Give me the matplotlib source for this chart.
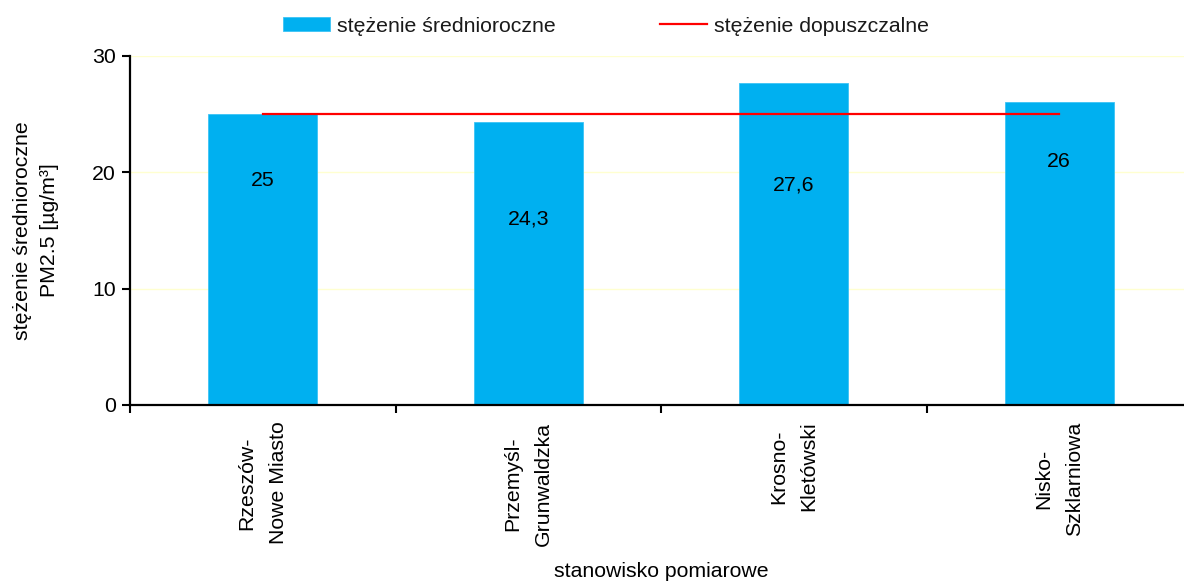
import matplotlib.pyplot as plt
from matplotlib.ticker import FixedLocator

plt.rcParams['font.family'] = ['Liberation Sans', 'DejaVu Sans']
plt.rcParams['font.size'] = 15.3
plt.rcParams['text.color'] = '#1a1a1a'

stations = ['Rzeszów-\nNowe Miasto', 'Przemyśl-\nGrunwaldzka', 'Krosno-\nKletówski', 'Nisko-\nSzklarniowa']
annual_mean = [25, 24.3, 27.6, 26]
value_labels = ['25', '24,3', '27,6', '26']
limit = [25, 25, 25, 25]

# where the value labels sit, in points below the top of each bar
label_drop = [48, 70, 73, 43]

fig = plt.figure(figsize=(11.84, 5.81), dpi=100)
ax = fig.add_axes([130 / 1184, 176 / 581, 1062 / 1184, 349.5 / 581])

x = range(len(stations))
bars = ax.bar(x, annual_mean, width=0.41, color='#00B0F0', edgecolor='#3cc3f5', linewidth=0.6,
              label='stężenie średnioroczne', zorder=2)
line, = ax.plot(x, limit, color='#FF0000', linewidth=1.6, label='stężenie dopuszczalne', zorder=3)

for i, (v, txt) in enumerate(zip(annual_mean, value_labels)):
    ax.annotate(txt, xy=(i, v), xytext=(0, -label_drop[i]), textcoords='offset points',
                ha='center', va='center', color='black', zorder=4)

ax.set_xlim(-0.5, 3.5)
ax.set_ylim(0, 30)
ax.set_yticks([0, 10, 20, 30])
ax.yaxis.grid(True, color='#FFFFD0', linewidth=1, zorder=0)
ax.set_axisbelow(True)

ax.set_xticks(list(x))
ax.set_xticklabels(stations, rotation=90, ha='center', va='top', multialignment='center',
                   linespacing=1.8)
ax.xaxis.set_minor_locator(FixedLocator([-0.5, 0.5, 1.5, 2.5, 3.5]))
ax.tick_params(axis='x', which='major', length=0, pad=12)
ax.tick_params(axis='x', which='minor', length=6, width=1.5, direction='out')
ax.tick_params(axis='y', length=6, width=1.5, direction='out', pad=4)

for s in ['top', 'right']:
    ax.spines[s].set_visible(False)
for s in ['left', 'bottom']:
    ax.spines[s].set_linewidth(1.6)
    ax.spines[s].set_color('black')

ax.set_ylabel('stężenie średnioroczne\nPM2.5 [µg/m³]', linespacing=1.55, labelpad=24)
ax.set_xlabel('stanowisko pomiarowe', labelpad=12)

fig.legend([bars, line], ['stężenie średnioroczne', 'stężenie dopuszczalne'],
           loc='center', bbox_to_anchor=(606 / 1184, 1 - 26 / 581), ncol=2, frameon=False,
           handlelength=2.2, handleheight=0.65, handletextpad=0.35, columnspacing=4.9)

fig.savefig('out.png', dpi=100)
